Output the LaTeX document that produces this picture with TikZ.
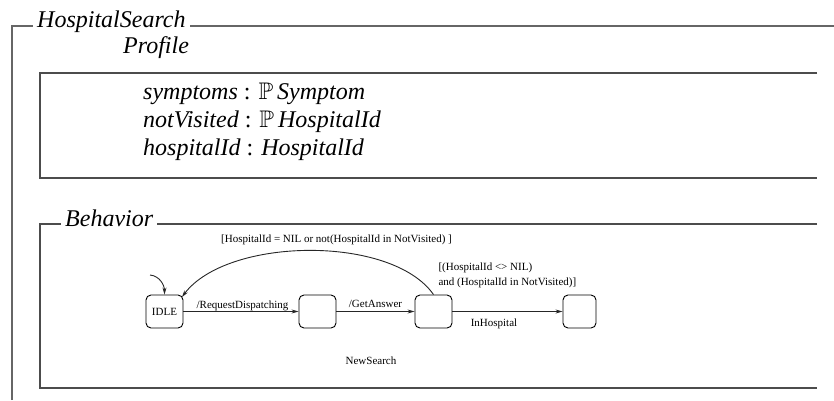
\documentclass[tikz,border=0pt]{standalone}
\usepackage{amssymb}
\usepackage{fontspec}
\setmainfont{Liberation Serif}
\usetikzlibrary{arrows.meta,calc}

\begin{document}
\begin{tikzpicture}[x=1pt,y=1pt,
  frameline/.style={line width=1.3pt, draw=black!70},
  title/.style={font=\fontsize{24}{28}\selectfont\itshape, inner sep=0pt, anchor=base west},
  framelabel/.style={title, fill=white, inner xsep=4pt, inner ysep=2pt},
  decl/.style={font=\fontsize{24}{28}\selectfont, inner sep=0pt, anchor=base west},
  state/.style={draw, rounded corners=5pt, line width=0.9pt, minimum width=37pt,
                minimum height=33pt, inner sep=0pt, font=\fontsize{11}{13}\selectfont},
  trans/.style={draw=black!85, line width=0.9pt, -{Stealth[length=7pt,width=4pt]}},
  lbl/.style={font=\fontsize{11}{13}\selectfont, inner sep=0pt}]
\useasboundingbox (0,0) rectangle (834,400);

% outer schema frame
\draw[frameline, draw=black!60] (12,0) -- (12,374) -- (834,374);
\node[framelabel] (hs) at (33,372) {HospitalSearch};

% profile section
\node[title] (prof) at (123,347) {Profile};
\draw[frameline] (817,327) -- (40,327) -- (40,222) -- (817,222);
\node[decl] (d1) at (143,301) {\textit{symptoms} : $\mathbb{P}$\,\textit{Symptom}};
\node[decl] (d2) at (143,273) {\textit{notVisited} : $\mathbb{P}$\,\textit{HospitalId}};
\node[decl] (d3) at (143,245) {\textit{hospitalId} : \textit{HospitalId}};

% behavior section
\draw[frameline] (817,176) -- (40,176) -- (40,12) -- (817,12);
\node[framelabel] (beh) at (61,174) {Behavior};

% states
\node[state] (idle) at (164.5,88.5) {IDLE};
\node[state] (s2) at (317.5,88.5) {};
\node[state] (s3) at (433.5,88.5) {};
\node[state, minimum width=33pt] (s4) at (579.5,88.5) {};

% initial transition
\coordinate (init) at (150,125);
\draw[trans] (init) to[out=-5,in=90] (idle.north);

% transitions
\draw[trans] (idle) -- (s2);
\draw[trans] (s2) -- (s3);
\draw[trans] (s3) -- (s4);
\coordinate (idleNE) at ($(idle.north east)+(-1.5,-2.5)$);
\draw[trans] (s3.north) .. controls +(-42,60) and +(45,60) .. (idleNE);

% transition labels
\node[lbl, anchor=base] (t1) at (242.5,92) {/RequestDispatching};
\node[lbl, anchor=base] (t2) at (375.5,92.7) {/GetAnswer};
\node[lbl, anchor=base] (t3) at (494,74) {InHospital};
\node[lbl, anchor=base] (g1) at (336.5,157.3) {[HospitalId = NIL or not(HospitalId in NotVisited) ]};
\node[lbl, anchor=base west] (g2a) at (438.3,129.3) {[(HospitalId <> NIL)};
\node[lbl, anchor=base west] (g2b) at (438.3,115) {and (HospitalId in NotVisited)]};
\node[lbl, anchor=base] (ns) at (371,36) {NewSearch};
\end{tikzpicture}
\end{document}
